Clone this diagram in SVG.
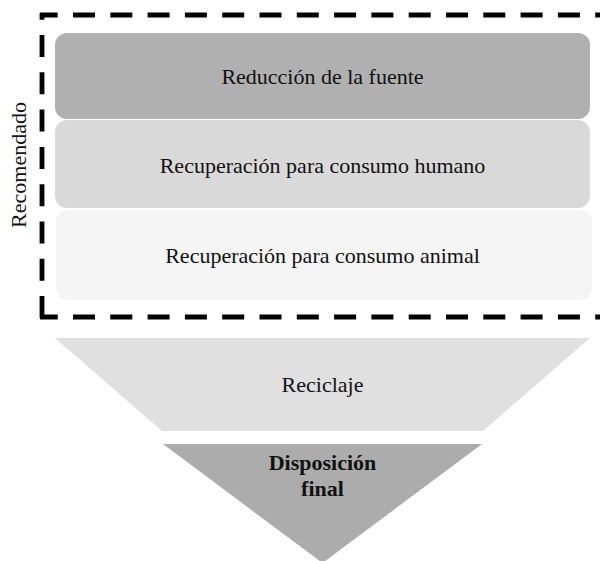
<svg xmlns="http://www.w3.org/2000/svg" width="600" height="561" viewBox="0 0 600 561">
<style>
.t{font-family:"Liberation Serif","Times New Roman",serif;font-size:22px;fill:#111;text-anchor:middle}
.b{font-weight:bold}
.d{stroke:#000;stroke-width:4.8;fill:none;stroke-dasharray:22 15.3}
</style>
<rect width="600" height="561" fill="#fff"/>
<g id="reduccion">
<rect x="55" y="33" width="535" height="86" rx="12" fill="#b0b0b0"/>
<text class="t" x="322.5" y="84">Reducción de la fuente</text>
</g>
<g id="consumo-humano">
<rect x="55" y="120" width="535" height="88" rx="12" fill="#d9d9d9"/>
<text class="t" x="322.5" y="173">Recuperación para consumo humano</text>
</g>
<g id="consumo-animal">
<rect x="56" y="210" width="536" height="90" rx="12" fill="#f5f5f5"/>
<text class="t" x="322.5" y="263">Recuperación para consumo animal</text>
</g>
<g id="reciclaje">
<polygon points="55,338 590,338 483,431 162,431" fill="#e0e0e0"/>
<text class="t" x="322.5" y="392">Reciclaje</text>
</g>
<g id="disposicion">
<polygon points="163,444 482,444 322.5,563" fill="#acacac"/>
<text class="t b" x="322.5" y="470">Disposición</text>
<text class="t b" x="322.5" y="496">final</text>
</g>
<g id="recomendado">
<line class="d" x1="40" y1="15" x2="620" y2="15" stroke-dashoffset="4.3"/>
<line class="d" x1="40" y1="317" x2="620" y2="317" stroke-dashoffset="4.3"/>
<line class="d" x1="42" y1="13" x2="42" y2="319" stroke-dashoffset="15.3"/>
<text class="t" transform="translate(26,165) rotate(-90)" x="0" y="0">Recomendado</text>
</g>
</svg>
